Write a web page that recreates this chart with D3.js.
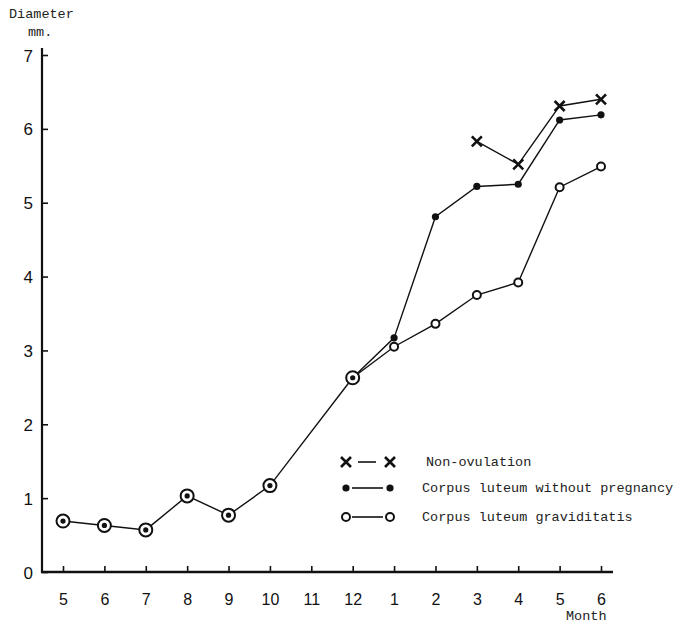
<!DOCTYPE html>
<html lang="en">
	<head>
		<meta charset="UTF-8" />
		<title>Diameter by month</title>
		<script src="https://d3js.org/d3.v7.min.js"></script>
		<style>
			body { margin: 0; background: #fff; }
			.mono { font-family: 'Liberation Mono', 'DejaVu Sans Mono', monospace; fill: #222; }
			.tick text { font-family: 'Liberation Sans', Arial, sans-serif; font-size: 16px; fill: #111; }
		</style>
	</head>
	<body>
		<svg id="chart" width="674" height="625"></svg>
		<script>
			// month labels along the x axis (two years, so indexed by position)
			var months = ['5', '6', '7', '8', '9', '10', '11', '12', '1', '2', '3', '4', '5', '6']
			var yTicks = [0, 1, 2, 3, 4, 5, 6, 7]

			// shared early values (no point at month 11)
			var commonIdx = [0, 1, 2, 3, 4, 5, 7]
			var commonVals = [0.69, 0.63, 0.57, 1.03, 0.77, 1.17, 2.63]

			// Corpus luteum graviditatis (open circles)
			var gravIdx = [7, 8, 9, 10, 11, 12, 13]
			var gravVals = [2.63, 3.05, 3.36, 3.75, 3.92, 5.21, 5.49]

			// Corpus luteum without pregnancy (filled dots)
			var noPregIdx = [7, 8, 9, 10, 11, 12, 13]
			var noPregVals = [2.63, 3.17, 4.81, 5.22, 5.25, 6.12, 6.19]

			// Non-ovulation (crosses)
			var nonOvIdx = [10, 11, 12, 13]
			var nonOvVals = [5.83, 5.52, 6.31, 6.40]

			var legendLabels = ['Non-ovulation', 'Corpus luteum without pregnancy', 'Corpus luteum graviditatis']

			var svg = d3.select('#chart')
			var x = d3.scaleLinear().domain([0, months.length - 1]).range([63, 601])
			var y = d3.scaleLinear().domain([0, 7]).range([572, 55])

			function pts(idx, vals) {
				return idx.map(function (d, i) { return [d, vals[i]] })
			}
			var line = d3.line().x(function (d) { return x(d[0]) }).y(function (d) { return y(d[1]) })

			// axes
			var xAxis = svg.append('g').attr('transform', 'translate(0,572)')
				.call(d3.axisBottom(x).tickValues(d3.range(months.length))
					.tickFormat(function (i) { return months[i] }).tickSize(0).tickPadding(22))
			xAxis.select('.domain').remove()
			xAxis.selectAll('.tick line').attr('y1', 0).attr('y2', -6).attr('stroke', '#111').attr('stroke-width', 1.6)

			var yAxis = svg.append('g').attr('transform', 'translate(42,0)')
				.call(d3.axisLeft(y).tickValues(yTicks).tickFormat(d3.format('d')).tickSize(0).tickPadding(9))
			yAxis.select('.domain').remove()
			yAxis.selectAll('.tick line').attr('x1', 0).attr('x2', 6).attr('stroke', '#111').attr('stroke-width', 1.6)
			yAxis.selectAll('.tick text').attr('dy', '0.36em').style('font-size', '17px')

			svg.append('line').attr('x1', 42).attr('x2', 42).attr('y1', 48).attr('y2', 573)
				.attr('stroke', '#111').attr('stroke-width', 2.2)
			svg.append('line').attr('x1', 41).attr('x2', 613).attr('y1', 572).attr('y2', 572)
				.attr('stroke', '#111').attr('stroke-width', 2.4)

			// axis titles
			svg.append('text').attr('class', 'mono').attr('x', 9).attr('y', 18).style('font-size', '13.5px').text('Diameter')
			svg.append('text').attr('class', 'mono').attr('x', 28).attr('y', 36).style('font-size', '13.5px').text('mm.')
			svg.append('text').attr('class', 'mono').attr('x', 566).attr('y', 620).style('font-size', '13.5px').text('Month')

			// lines
			var series = [pts(commonIdx, commonVals), pts(gravIdx, gravVals), pts(noPregIdx, noPregVals), pts(nonOvIdx, nonOvVals)]
			svg.append('g').selectAll('path').data(series).enter().append('path')
				.attr('d', line).attr('fill', 'none').attr('stroke', '#111').attr('stroke-width', 1.4)

			// marker helpers
			function circleDot(g, cx, cy) {
				g.append('circle').attr('cx', cx).attr('cy', cy).attr('r', 6.5).attr('fill', '#fff').attr('stroke', '#111').attr('stroke-width', 2)
				g.append('circle').attr('cx', cx).attr('cy', cy).attr('r', 2.6).attr('fill', '#111')
			}
			function openDot(g, cx, cy) {
				g.append('circle').attr('cx', cx).attr('cy', cy).attr('r', 4).attr('fill', '#fff').attr('stroke', '#111').attr('stroke-width', 2)
			}
			function fillDot(g, cx, cy) {
				g.append('circle').attr('cx', cx).attr('cy', cy).attr('r', 3.6).attr('fill', '#111')
			}
			function cross(g, cx, cy) {
				var s = 5
				g.append('path').attr('d', 'M' + (cx - s) + ',' + (cy - s) + 'L' + (cx + s) + ',' + (cy + s) + 'M' + (cx - s) + ',' + (cy + s) + 'L' + (cx + s) + ',' + (cy - s))
					.attr('stroke', '#111').attr('stroke-width', 2.6).attr('fill', 'none')
			}

			var marks = svg.append('g')
			pts(commonIdx, commonVals).forEach(function (d) { circleDot(marks, x(d[0]), y(d[1])) })
			pts(gravIdx, gravVals).slice(1).forEach(function (d) { openDot(marks, x(d[0]), y(d[1])) })
			pts(noPregIdx, noPregVals).slice(1).forEach(function (d) { fillDot(marks, x(d[0]), y(d[1])) })
			pts(nonOvIdx, nonOvVals).forEach(function (d) { cross(marks, x(d[0]), y(d[1])) })

			// legend
			var legend = svg.append('g')
			var rows = [462, 488, 517]
			var drawers = [cross, fillDot, openDot]
			rows.forEach(function (ry, i) {
				legend.append('line').attr('x1', i === 0 ? 358 : 352).attr('x2', i === 0 ? 376 : 383)
					.attr('y1', ry).attr('y2', ry).attr('stroke', '#111').attr('stroke-width', 1.6)
				drawers[i](legend, 346, ry)
				drawers[i](legend, 390, ry)
				legend.append('text').attr('class', 'mono').attr('x', i === 0 ? 426 : 422).attr('y', ry + 4)
					.style('font-size', '13.5px').text(legendLabels[i])
			})
		</script>
	</body>
</html>
